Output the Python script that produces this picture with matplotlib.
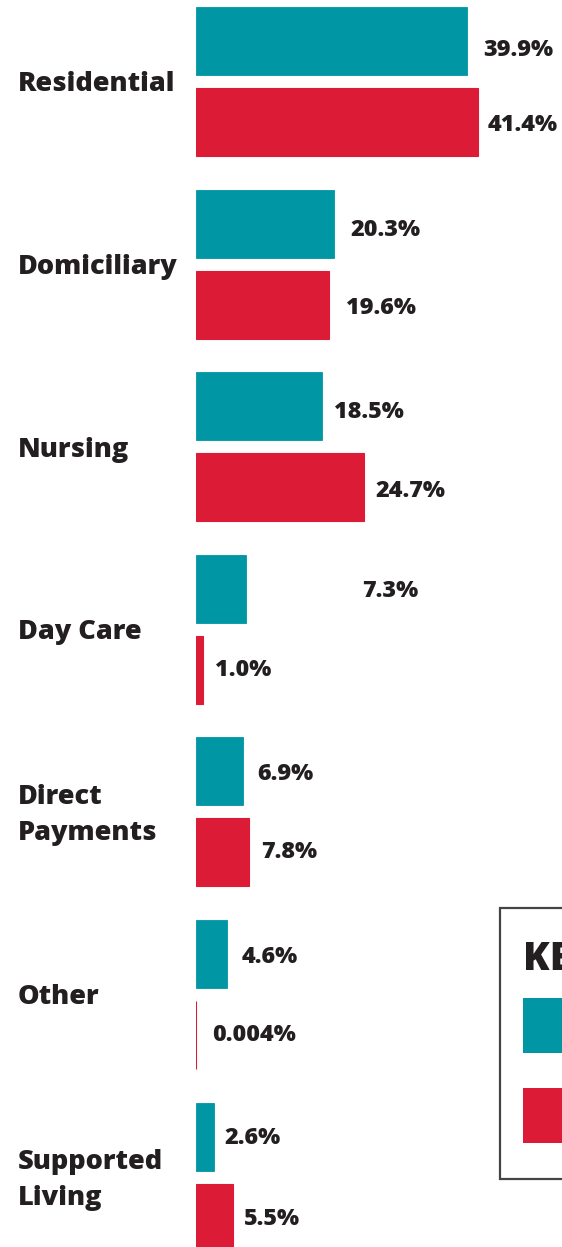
import matplotlib
matplotlib.use("Agg")
import matplotlib.pyplot as plt
from matplotlib.patches import Rectangle
from matplotlib.transforms import blended_transform_factory

# ---- data ----
categories = ["Residential", "Domiciliary", "Nursing", "Day Care",
              "Direct\nPayments", "Other", "Supported\nLiving"]
series_a = [39.9, 20.3, 18.5, 7.3, 6.9, 4.6, 2.6]      # teal
series_b = [41.4, 19.6, 24.7, 1.0, 7.8, 0.004, 5.5]    # red
labels_a = ["39.9%", "20.3%", "18.5%", "7.3%", "6.9%", "4.6%", "2.6%"]
labels_b = ["41.4%", "19.6%", "24.7%", "1.0%", "7.8%", "0.004%", "5.5%"]

# ---- styling ----
TEAL = "#0096A3"
RED = "#DC1C37"
TXT = "#231F20"
FONT = "Open Sans"
W, H = 562, 1247

# label offsets in pixels (x from bar end, y downwards)
off_a_x = [16, 16, 12, 116, 14, 14, 11]
off_b_x = [10, 17, 11, 12, 12, 16, 11]
off_a_y = [9, 6, 6, 2, 3, 3, 1]
off_b_y = [3, 3, 4, 0, 0, 0, 1]

fig = plt.figure(figsize=(W / 100, H / 100), dpi=100)
fig.patch.set_facecolor("white")

ax_left = 196 / W
ax = fig.add_axes([ax_left, 0, 1 - ax_left, 1])
px_per_unit_x = 6.8
ax.set_xlim(0, (W - 196) / px_per_unit_x)

spacing = 182.6
first_center = 81.5
ax.set_ylim((H - first_center) / spacing, -first_center / spacing)
ax.axis("off")

half = 40.5 / spacing
bh = 68 / spacing
ys = list(range(len(categories)))
ya = [y - half for y in ys]
yb = [y + half for y in ys]

ax.barh(ya, series_a, height=bh, color=TEAL, edgecolor=TEAL, linewidth=0.6)
ax.barh(yb, series_b, height=bh, color=RED, edgecolor=RED, linewidth=0.8)

for i in range(len(categories)):
    ax.annotate(labels_a[i], xy=(series_a[i], ya[i]),
                xytext=(off_a_x[i], -off_a_y[i]), textcoords="offset pixels",
                ha="left", va="center", fontsize=16.8, fontweight=800,
                family=FONT, color=TXT)
    ax.annotate(labels_b[i], xy=(series_b[i], yb[i]),
                xytext=(off_b_x[i], -off_b_y[i]), textcoords="offset pixels",
                ha="left", va="center", fontsize=16.8, fontweight=800,
                family=FONT, color=TXT)

tr = blended_transform_factory(fig.transFigure, ax.transData)
for i, c in enumerate(categories):
    ax.annotate(c, xy=(18 / W, ys[i]), xycoords=tr,
                xytext=(0, -3), textcoords="offset pixels",
                ha="left", va="center", fontsize=19.5, fontweight=800,
                family=FONT, color=TXT, linespacing=1.52)

# ---- key box (cut off at right edge, as in reference) ----
def fy(p):
    return 1 - p / H

fig.patches.append(Rectangle((500 / W, fy(1179)), 120 / W, (1179 - 908) / H,
                             transform=fig.transFigure, facecolor="white",
                             edgecolor="#444444", linewidth=1.6))
fig.text(523 / W, fy(970), "KEY", ha="left", va="baseline", fontsize=28,
         fontweight=800, family=FONT, color=TXT)
fig.patches.append(Rectangle((523 / W, fy(1053)), 80 / W, 55 / H,
                             transform=fig.transFigure, facecolor=TEAL,
                             edgecolor="none"))
fig.patches.append(Rectangle((523 / W, fy(1143)), 80 / W, 55 / H,
                             transform=fig.transFigure, facecolor=RED,
                             edgecolor="none"))

fig.savefig("out.png", dpi=100)
